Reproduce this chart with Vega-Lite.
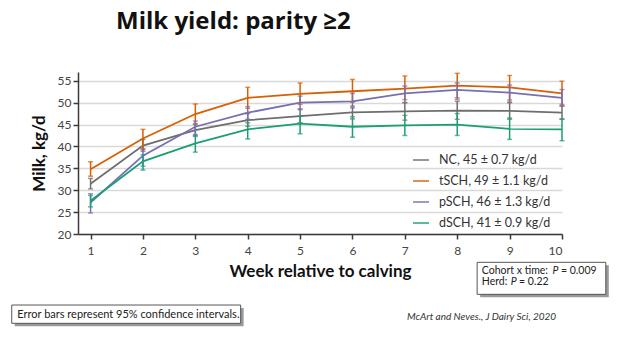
{
  "$schema": "https://vega.github.io/schema/vega-lite/v6.json",
  "width": 484,
  "height": 162,
  "autosize": {"type": "none"},
  "padding": {"left": 78, "top": 72, "right": 62, "bottom": 117},
  "background": "white",
  "title": {"text": "Milk yield: parity ≥2", "anchor": "start", "frame": "group", "dx": 38, "offset": 19, "baseline": "alphabetic", "font": "Open Sans", "fontSize": 24, "fontWeight": "bold", "color": "#111111"},
  "config": {
    "view": {"stroke": null},
    "font": "Lato",
    "axis": {"labelFont": "Lato", "titleFont": "Lato", "labelColor": "#444444", "titleColor": "#111111", "domainColor": "#3a3a3a", "tickColor": "#3a3a3a", "domainWidth": 1.5, "tickWidth": 1.5, "labelOverlap": false, "labelFontSize": 12, "titleFontSize": 17, "titleFontWeight": "bold", "tickSize": 5},
    "axisX": {"grid": false, "labelPadding": 6, "titlePadding": 7, "tickCount": 10, "format": "d"},
    "axisY": {"grid": true, "gridColor": "#d9d9d9", "gridWidth": 1.5, "labelPadding": 2, "titlePadding": 9, "tickCount": 8, "format": "d"},
    "legend": {"orient": "none", "legendX": 334, "legendY": 79, "padding": 0, "symbolType": "stroke", "symbolSize": 256, "symbolStrokeWidth": 2, "labelFont": "Lato", "labelFontSize": 12.5, "labelColor": "#333333", "labelOffset": 9, "rowPadding": 5, "title": null}
  },
  "datasets": {
    "milk": [
      {"week": 1, "group": "NC", "mean": 31.5, "lo": 30.3, "hi": 32.7},
      {"week": 2, "group": "NC", "mean": 40.2, "lo": 38.9, "hi": 41.6},
      {"week": 3, "group": "NC", "mean": 43.7, "lo": 42.3, "hi": 45.0},
      {"week": 4, "group": "NC", "mean": 46.0, "lo": 44.6, "hi": 47.5},
      {"week": 5, "group": "NC", "mean": 46.9, "lo": 45.4, "hi": 48.6},
      {"week": 6, "group": "NC", "mean": 47.8, "lo": 46.3, "hi": 49.2},
      {"week": 7, "group": "NC", "mean": 48.0, "lo": 46.0, "hi": 50.0},
      {"week": 8, "group": "NC", "mean": 48.2, "lo": 46.2, "hi": 50.3},
      {"week": 9, "group": "NC", "mean": 48.1, "lo": 46.2, "hi": 50.0},
      {"week": 10, "group": "NC", "mean": 47.7, "lo": 46.2, "hi": 49.3},
      {"week": 1, "group": "tSCH", "mean": 34.8, "lo": 33.2, "hi": 36.5},
      {"week": 2, "group": "tSCH", "mean": 41.8, "lo": 39.5, "hi": 43.9},
      {"week": 3, "group": "tSCH", "mean": 47.4, "lo": 45.2, "hi": 49.7},
      {"week": 4, "group": "tSCH", "mean": 51.1, "lo": 48.7, "hi": 53.5},
      {"week": 5, "group": "tSCH", "mean": 52.0, "lo": 49.6, "hi": 54.5},
      {"week": 6, "group": "tSCH", "mean": 52.6, "lo": 50.1, "hi": 55.3},
      {"week": 7, "group": "tSCH", "mean": 53.2, "lo": 50.7, "hi": 56.1},
      {"week": 8, "group": "tSCH", "mean": 53.9, "lo": 51.1, "hi": 56.7},
      {"week": 9, "group": "tSCH", "mean": 53.5, "lo": 50.6, "hi": 56.2},
      {"week": 10, "group": "tSCH", "mean": 52.1, "lo": 49.6, "hi": 54.9},
      {"week": 1, "group": "pSCH", "mean": 27.2, "lo": 24.8, "hi": 29.2},
      {"week": 2, "group": "pSCH", "mean": 37.9, "lo": 35.5, "hi": 39.3},
      {"week": 3, "group": "pSCH", "mean": 44.5, "lo": 42.7, "hi": 45.8},
      {"week": 4, "group": "pSCH", "mean": 47.7, "lo": 46.2, "hi": 49.1},
      {"week": 5, "group": "pSCH", "mean": 50.0, "lo": 48.4, "hi": 51.5},
      {"week": 6, "group": "pSCH", "mean": 50.3, "lo": 48.8, "hi": 52.1},
      {"week": 7, "group": "pSCH", "mean": 52.1, "lo": 50.0, "hi": 53.8},
      {"week": 8, "group": "pSCH", "mean": 52.9, "lo": 50.7, "hi": 54.5},
      {"week": 9, "group": "pSCH", "mean": 52.3, "lo": 50.1, "hi": 54.0},
      {"week": 10, "group": "pSCH", "mean": 51.1, "lo": 49.2, "hi": 53.0},
      {"week": 1, "group": "dSCH", "mean": 27.6, "lo": 26.2, "hi": 28.8},
      {"week": 2, "group": "dSCH", "mean": 36.6, "lo": 34.6, "hi": 38.1},
      {"week": 3, "group": "dSCH", "mean": 40.7, "lo": 38.7, "hi": 42.5},
      {"week": 4, "group": "dSCH", "mean": 43.9, "lo": 41.7, "hi": 45.4},
      {"week": 5, "group": "dSCH", "mean": 45.2, "lo": 42.9, "hi": 46.9},
      {"week": 6, "group": "dSCH", "mean": 44.5, "lo": 42.1, "hi": 46.8},
      {"week": 7, "group": "dSCH", "mean": 44.8, "lo": 42.5, "hi": 47.1},
      {"week": 8, "group": "dSCH", "mean": 45.0, "lo": 42.5, "hi": 47.5},
      {"week": 9, "group": "dSCH", "mean": 44.0, "lo": 41.6, "hi": 46.5},
      {"week": 10, "group": "dSCH", "mean": 43.9, "lo": 41.3, "hi": 46.3}
    ],
    "one": [{}]
  },
  "layer": [
    {
      "data": {"name": "milk"},
      "mark": {"type": "line", "strokeWidth": 1.8},
      "encoding": {
        "x": {"field": "week", "type": "quantitative", "scale": {"domain": [0.76, 10], "nice": false, "zero": false},
              "axis": {"title": "Week relative to calving", "values": [1,2,3,4,5,6,7,8,9,10]}},
        "y": {"field": "mean", "type": "quantitative", "scale": {"domain": [20, 57], "nice": false, "zero": false},
              "axis": {"title": "Milk, kg/d", "values": [20,25,30,35,40,45,50,55]}},
        "color": {"field": "group", "type": "nominal", "scale": {"domain": ["NC", "tSCH", "pSCH", "dSCH"], "range": ["#6e6e6e", "#d95f02", "#7570b3", "#1b9e77"]},
                  "legend": {"labelExpr": "datum.label == 'NC' ? 'NC, 45 ± 0.7 kg/d' : datum.label == 'tSCH' ? 'tSCH, 49 ± 1.1 kg/d' : datum.label == 'pSCH' ? 'pSCH, 46 ± 1.3 kg/d' : 'dSCH, 41 ± 0.9 kg/d'"}}
      }
    },
    {
      "data": {"name": "milk"},
      "mark": {"type": "errorbar", "thickness": 1.5, "ticks": {"size": 5, "thickness": 1.5}},
      "encoding": {
        "x": {"field": "week", "type": "quantitative", "axis": {"title": "Week relative to calving", "values": [1,2,3,4,5,6,7,8,9,10]}},
        "y": {"field": "lo", "type": "quantitative", "axis": {"title": "Milk, kg/d", "values": [20,25,30,35,40,45,50,55]}},
        "y2": {"field": "hi"},
        "color": {"field": "group", "type": "nominal",
                  "legend": {"labelExpr": "datum.label == 'NC' ? 'NC, 45 ± 0.7 kg/d' : datum.label == 'tSCH' ? 'tSCH, 49 ± 1.1 kg/d' : datum.label == 'pSCH' ? 'pSCH, 46 ± 1.3 kg/d' : 'dSCH, 41 ± 0.9 kg/d'"}}
      }
    },
    {
      "data": {"name": "one"},
      "mark": {"type": "rect", "fill": "#9a9a9a", "xOffset": 3, "yOffset": 3, "x2Offset": 3, "y2Offset": 3},
      "encoding": {"x": {"datum": 8.38, "type": "quantitative"}, "x2": {"datum": 10.836}, "y": {"datum": 13.53, "type": "quantitative"}, "y2": {"datum": 6.22}}
    },
    {
      "data": {"name": "one"},
      "mark": {"type": "rect", "fill": "white", "stroke": "#555555", "strokeWidth": 1},
      "encoding": {"x": {"datum": 8.38, "type": "quantitative"}, "x2": {"datum": 10.836}, "y": {"datum": 13.53, "type": "quantitative"}, "y2": {"datum": 6.22}}
    },
    {
      "data": {"name": "one"},
      "mark": {"type": "rect", "fill": "#9a9a9a", "xOffset": 3, "yOffset": 3, "x2Offset": 3, "y2Offset": 3},
      "encoding": {"x": {"datum": -0.505, "type": "quantitative"}, "x2": {"datum": 3.865}, "y": {"datum": 3.78, "type": "quantitative"}, "y2": {"datum": -0.4}}
    },
    {
      "data": {"name": "one"},
      "mark": {"type": "rect", "fill": "white", "stroke": "#555555", "strokeWidth": 1},
      "encoding": {"x": {"datum": -0.505, "type": "quantitative"}, "x2": {"datum": 3.865}, "y": {"datum": 3.78, "type": "quantitative"}, "y2": {"datum": -0.4}}
    },
    {
      "data": {"name": "one"},
      "mark": {"type": "text", "text": "Error bars represent 95% confidence intervals.", "align": "left", "baseline": "alphabetic", "font": "Lato", "fontSize": 11, "color": "#222222"},
      "encoding": {"x": {"datum": -0.398, "type": "quantitative"}, "y": {"datum": 0.88, "type": "quantitative"}}
    },
    {
      "data": {"name": "one"},
      "mark": {"type": "text", "text": "McArt and Neves., J Dairy Sci, 2020", "align": "center", "baseline": "alphabetic", "font": "Lato", "fontSize": 10, "fontStyle": "italic", "color": "#333333"},
      "encoding": {"x": {"datum": 8.464, "type": "quantitative"}, "y": {"datum": 0.35, "type": "quantitative"}}
    },
    {
      "data": {"name": "one"},
      "mark": {"type": "text", "text": "Cohort x time:", "align": "left", "baseline": "alphabetic", "font": "Lato", "fontSize": 10.5, "color": "#222222"},
      "encoding": {"x": {"datum": 8.47, "type": "quantitative"}, "y": {"datum": 10.86, "type": "quantitative"}}
    },
    {
      "data": {"name": "one"},
      "mark": {"type": "text", "text": "P", "align": "left", "baseline": "alphabetic", "font": "Lato", "fontSize": 10.5, "fontStyle": "italic", "color": "#222222"},
      "encoding": {"x": {"datum": 9.82, "type": "quantitative"}, "y": {"datum": 10.86, "type": "quantitative"}}
    },
    {
      "data": {"name": "one"},
      "mark": {"type": "text", "text": "= 0.009", "align": "left", "baseline": "alphabetic", "font": "Lato", "fontSize": 10.5, "color": "#222222"},
      "encoding": {"x": {"datum": 9.98, "type": "quantitative"}, "y": {"datum": 10.86, "type": "quantitative"}}
    },
    {
      "data": {"name": "one"},
      "mark": {"type": "text", "text": "Herd:", "align": "left", "baseline": "alphabetic", "font": "Lato", "fontSize": 10.5, "color": "#222222"},
      "encoding": {"x": {"datum": 8.47, "type": "quantitative"}, "y": {"datum": 8.35, "type": "quantitative"}}
    },
    {
      "data": {"name": "one"},
      "mark": {"type": "text", "text": "P", "align": "left", "baseline": "alphabetic", "font": "Lato", "fontSize": 10.5, "fontStyle": "italic", "color": "#222222"},
      "encoding": {"x": {"datum": 9.02, "type": "quantitative"}, "y": {"datum": 8.35, "type": "quantitative"}}
    },
    {
      "data": {"name": "one"},
      "mark": {"type": "text", "text": "= 0.22", "align": "left", "baseline": "alphabetic", "font": "Lato", "fontSize": 10.5, "color": "#222222"},
      "encoding": {"x": {"datum": 9.18, "type": "quantitative"}, "y": {"datum": 8.35, "type": "quantitative"}}
    }
  ]
}
